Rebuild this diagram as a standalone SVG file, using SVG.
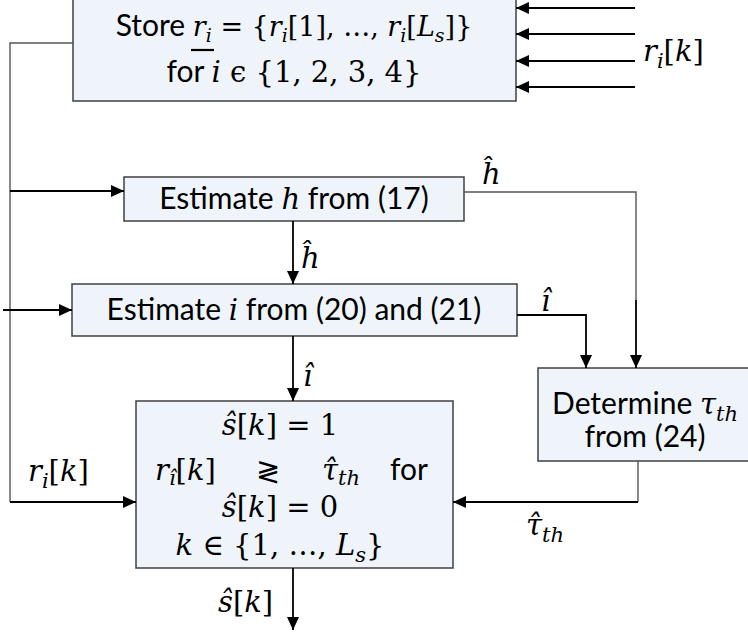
<svg xmlns="http://www.w3.org/2000/svg" width="748" height="639" viewBox="0 0 748 639">
<defs>
<marker id="ah" markerUnits="userSpaceOnUse" markerWidth="14" markerHeight="14" viewBox="0 0 14 14" refX="13" refY="7" orient="auto">
<path d="M0,1 L13,7 L0,13 Z" fill="#000"/>
</marker>
<style>
.box{fill:#EFF4FA;stroke:#404040;stroke-width:1.5}
.t{font-family:Lato,"Open Sans","Liberation Sans",sans-serif;font-size:30px;fill:#000}
.m{font-family:"DejaVu Serif","Liberation Serif",serif;font-size:29px;fill:#000}
.m2{font-family:"DejaVu Serif","Liberation Serif",serif;font-size:27px;fill:#000}
.i{font-style:italic}
.s{font-size:21px}
.s2{font-size:19px}
.th{fill:none;stroke:#555;stroke-width:1.4}
.ar{fill:none;stroke:#000;stroke-width:1.8;marker-end:url(#ah)}
</style>
</defs>
<rect width="748" height="639" fill="#fff"/>

<g id="store">
<rect class="box" x="73" y="-1" width="443" height="102"/>
<text class="t" x="294" y="36" text-anchor="middle">Store <tspan class="m2 i">r</tspan><tspan class="m2 i s2" dy="6">i</tspan><tspan class="m2" dy="-6"> = {</tspan><tspan class="m2 i">r</tspan><tspan class="m2 i s2" dy="6">i</tspan><tspan class="m2" dy="-6">[1], …, </tspan><tspan class="m2 i">r</tspan><tspan class="m2 i s2" dy="6">i</tspan><tspan class="m2" dy="-6">[</tspan><tspan class="m2 i">L</tspan><tspan class="m2 i s2" dy="6">s</tspan><tspan class="m2" dy="-6">]}</tspan></text>
<line x1="191" y1="50" x2="214" y2="50" stroke="#000" stroke-width="2.2"/>
<text class="t" x="294" y="82" text-anchor="middle">for <tspan class="m i">i</tspan><tspan class="m"> ϵ {1, 2, 3, 4}</tspan></text>
</g>

<g id="estH">
<rect class="box" x="124" y="177" width="340" height="44"/>
<text class="t" x="294" y="209" text-anchor="middle">Estimate <tspan class="m i">h</tspan> from (17)</text>
</g>

<g id="estI">
<rect class="box" x="72" y="284" width="445" height="52"/>
<text class="t" x="294" y="320" text-anchor="middle">Estimate <tspan class="m i">i</tspan> from (20) and (21)</text>
</g>

<g id="determine">
<rect class="box" x="538" y="368" width="212" height="93"/>
<text class="t" x="645" y="414" text-anchor="middle">Determine <tspan class="m i">τ</tspan><tspan class="m i s" dy="7">th</tspan></text>
<text class="t" x="645" y="447" text-anchor="middle">from  (24)</text>
</g>

<g id="decide">
<rect class="box" x="136" y="401" width="317" height="167"/>
<text class="m" x="280" y="435" text-anchor="middle"><tspan class="i">ŝ</tspan>[<tspan class="i">k</tspan>] = 1</text>
<text class="m" x="155" y="480"><tspan class="i">r</tspan><tspan class="i s" dy="5">î</tspan><tspan dy="-5">[</tspan><tspan class="i">k</tspan>]</text>
<text class="m" x="268" y="481" text-anchor="middle">≷</text>
<text class="m" x="322" y="480"><tspan class="i">τ̂</tspan><tspan class="i s" dy="5">th</tspan></text>
<text class="t" x="390" y="480">for</text>
<text class="m" x="280" y="517" text-anchor="middle"><tspan class="i">ŝ</tspan>[<tspan class="i">k</tspan>] = 0</text>
<text class="m" x="280" y="555" text-anchor="middle"><tspan class="i">k</tspan>  ∈  {1, …, <tspan class="i">L</tspan><tspan class="i s" dy="7">s</tspan><tspan dy="-7">}</tspan></text>
</g>

<g id="connectors">
<polyline class="th" points="73,43 10,43 10,502"/>
<polyline class="ar" points="10,502 136,502"/>
<polyline class="ar" points="10,191 124,191"/>
<polyline class="ar" points="3,310 72,310"/>
<polyline class="ar" points="293,221 293,284"/>
<polyline class="ar" points="293,336 293,401"/>
<polyline class="ar" points="293,568 293,630"/>
<polyline class="th" points="464,192 636,192 636,300"/>
<polyline class="ar" points="636,300 636,368"/>
<polyline class="ar" points="517,315 586,315 586,368"/>
<polyline class="th" points="638,461 638,502"/>
<polyline class="ar" points="638,502 453,502"/>
<polyline class="ar" points="635,8 516,8"/>
<polyline class="ar" points="635,34 516,34"/>
<polyline class="ar" points="635,61 516,61"/>
<polyline class="ar" points="635,87 516,87"/>
</g>

<g id="labels">
<text class="m" x="643" y="61"><tspan class="i">r</tspan><tspan class="i s" dy="7">i</tspan><tspan dy="-7">[</tspan><tspan class="i">k</tspan>]</text>
<text class="m i" x="482" y="184">ĥ</text>
<text class="m i" x="301" y="268">ĥ</text>
<text class="m i" x="541" y="311">î</text>
<text class="m i" x="303" y="386">î</text>
<text class="m" x="28" y="481"><tspan class="i">r</tspan><tspan class="i s" dy="7">i</tspan><tspan dy="-7">[</tspan><tspan class="i">k</tspan>]</text>
<text class="m" x="526" y="535"><tspan class="i">τ̂</tspan><tspan class="i s" dy="7">th</tspan></text>
<text class="m" x="218" y="612"><tspan class="i">ŝ</tspan>[<tspan class="i">k</tspan>]</text>
</g>
</svg>
